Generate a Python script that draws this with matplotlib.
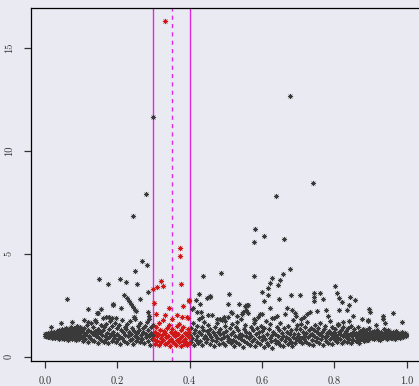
import numpy as np
import matplotlib
matplotlib.use("Agg")
import matplotlib.pyplot as plt

plt.rcParams['font.family'] = ['cmr10', 'DejaVu Serif']
plt.rcParams['axes.formatter.use_mathtext'] = True

# ---------------- data ----------------
# dense band, segment A (x 0.00-0.10)
band_a_x = [0.000,0.002,0.004,0.005,0.007,0.008,0.010,0.011,0.013,0.014,0.016,0.017,0.019,0.020,0.022,0.023,0.025,0.026,0.028,0.029,
            0.031,0.032,0.034,0.035,0.037,0.038,0.040,0.041,0.043,0.044,0.046,0.047,0.049,0.050,0.052,0.053,0.055,0.056,0.058,0.059,
            0.061,0.062,0.064,0.065,0.067,0.068,0.070,0.071,0.073,0.074,0.076,0.077,0.079,0.080,0.082,0.083,0.085,0.086,0.088,0.089,
            0.091,0.092,0.094,0.095,0.097,0.098,0.100,
            0.001,0.003,0.006,0.009,0.012,0.015,0.018,0.021,0.024,0.027,0.030,0.033,0.036,0.039,0.042,0.045,0.048,0.051,0.054,0.057,
            0.060,0.063,0.066,0.069,0.072,0.075,0.078,0.081,0.084,0.087,0.090,0.093,0.096,0.099]
band_a_y = [1.02,1.08,0.98,1.12,1.05,0.95,1.10,1.03,1.15,0.99,1.07,1.18,0.93,1.04,1.11,0.97,1.20,1.01,1.09,0.90,
            1.14,1.06,1.25,0.96,1.02,1.30,0.88,1.12,1.05,1.22,0.92,1.35,1.00,1.15,0.85,1.08,1.28,0.95,1.40,1.03,
            0.89,1.18,1.10,0.82,1.32,1.05,0.97,1.45,1.12,0.86,1.25,1.00,0.91,1.38,1.07,1.20,0.80,1.15,1.50,0.94,
            1.04,1.28,0.87,1.12,1.42,0.98,1.22,
            1.10,1.00,1.06,1.13,0.96,1.08,1.02,1.16,1.09,0.94,1.12,1.05,0.99,1.24,1.03,1.14,0.91,1.19,1.06,1.33,
            0.98,1.11,0.90,1.26,1.04,0.93,1.17,1.36,1.01,0.84,1.21,1.09,0.96,1.30]

# segment B (x 0.10-0.30)
band_b_x = [0.102,0.104,0.106,0.108,0.110,0.112,0.114,0.116,0.118,0.120,0.122,0.124,0.126,0.128,0.130,0.132,0.134,0.136,0.138,0.140,
            0.142,0.144,0.146,0.148,0.150,0.152,0.154,0.156,0.158,0.160,0.162,0.164,0.166,0.168,0.170,0.172,0.174,0.176,0.178,0.180,
            0.182,0.184,0.186,0.188,0.190,0.192,0.194,0.196,0.198,0.200,0.202,0.204,0.206,0.208,0.210,0.212,0.214,0.216,0.218,0.220,
            0.222,0.224,0.226,0.228,0.230,0.232,0.234,0.236,0.238,0.240,0.242,0.244,0.246,0.248,0.250,0.252,0.254,0.256,0.258,0.260,
            0.262,0.264,0.266,0.268,0.270,0.272,0.274,0.276,0.278,0.280,0.282,0.284,0.286,0.288,0.290,0.292,0.294,0.296,0.298,0.299]
band_b_y = [0.95,1.22,0.78,1.40,1.05,0.88,1.15,1.55,0.70,1.30,
            1.02,0.92,1.62,1.18,0.82,1.08,1.45,0.75,1.25,0.98,
            1.70,1.10,0.68,1.35,0.90,1.20,1.52,0.80,1.05,1.28,
            0.72,1.42,1.00,0.86,1.60,1.14,0.65,1.32,0.95,1.75,
            1.08,0.78,1.48,1.22,0.92,1.02,1.65,0.70,1.38,1.12,
            0.84,1.55,1.00,0.62,1.28,1.80,0.90,1.18,0.74,1.45,
            1.06,1.32,0.66,1.58,0.98,1.22,0.80,1.72,1.10,0.88,
            1.40,0.60,1.25,1.02,1.85,0.76,1.15,1.50,0.92,1.30,
            0.70,1.62,1.05,0.85,1.38,1.20,0.64,1.48,0.96,1.12,
            1.68,0.78,1.28,1.00,0.58,1.42,1.15,0.88,1.55,1.05]

# segment D (x 0.40-0.70)
band_d_x = [0.401,0.403,0.405,0.407,0.409,0.411,0.413,0.415,0.417,0.419,0.421,0.423,0.425,0.427,0.429,0.431,0.433,0.435,0.437,0.439,
            0.441,0.443,0.445,0.447,0.449,0.451,0.453,0.455,0.457,0.459,0.461,0.463,0.465,0.467,0.469,0.471,0.473,0.475,0.477,0.479,
            0.481,0.483,0.485,0.487,0.489,0.491,0.493,0.495,0.497,0.499,0.501,0.503,0.505,0.507,0.509,0.511,0.513,0.515,0.517,0.519,
            0.521,0.523,0.525,0.527,0.529,0.531,0.533,0.535,0.537,0.539,0.541,0.543,0.545,0.547,0.549,0.551,0.553,0.555,0.557,0.559,
            0.561,0.563,0.565,0.567,0.569,0.571,0.573,0.575,0.577,0.579,0.581,0.583,0.585,0.587,0.589,0.591,0.593,0.595,0.597,0.599,
            0.601,0.603,0.605,0.607,0.609,0.611,0.613,0.615,0.617,0.619,0.621,0.623,0.625,0.627,0.629,0.631,0.633,0.635,0.637,0.639,
            0.641,0.643,0.645,0.647,0.649,0.651,0.653,0.655,0.657,0.659,0.661,0.663,0.665,0.667,0.669,0.671,0.673,0.675,0.677,0.679,
            0.681,0.683,0.685,0.687,0.689,0.691,0.693,0.695,0.697,0.699]
band_d_y = [1.05,0.72,1.38,0.90,1.62,0.58,1.15,1.28,0.82,1.50,
            0.98,0.66,1.20,1.85,0.78,1.08,1.42,0.55,1.30,0.92,
            1.70,1.00,0.70,1.25,0.86,1.55,1.12,0.62,1.35,0.96,
            2.00,0.80,1.18,0.52,1.45,1.04,0.74,1.62,0.90,1.22,
            0.60,1.32,1.08,0.84,1.78,0.68,1.15,0.95,1.48,0.56,
            1.25,1.02,0.76,1.92,0.88,1.38,0.64,1.10,1.58,0.82,
            1.20,0.50,1.00,1.42,0.72,1.68,0.94,1.28,0.60,1.12,
            1.82,0.86,1.05,0.46,1.35,0.78,1.52,0.98,1.22,0.66,
            2.10,0.90,1.15,0.58,1.45,1.02,0.74,1.30,0.84,1.62,
            0.52,1.08,1.38,0.70,1.95,0.96,1.18,0.62,1.50,0.80,
            1.25,1.00,0.48,1.40,0.88,1.72,0.68,1.12,0.55,1.32,
            0.92,1.58,0.76,1.05,0.44,1.22,1.88,0.82,1.10,0.64,
            1.45,0.98,0.72,1.30,0.58,1.65,0.86,1.15,0.50,1.02,
            1.38,0.78,2.05,0.94,1.20,0.62,1.48,0.84,1.08,0.70,
            1.28,0.54,1.78,0.96,1.12,0.66,1.35,0.88,1.55,1.00]

# segment E (x 0.70-0.90)
band_e_x = [0.701,0.703,0.705,0.707,0.709,0.711,0.713,0.715,0.717,0.719,0.721,0.723,0.725,0.727,0.729,0.731,0.733,0.735,0.737,0.739,
            0.741,0.743,0.745,0.747,0.749,0.751,0.753,0.755,0.757,0.759,0.761,0.763,0.765,0.767,0.769,0.771,0.773,0.775,0.777,0.779,
            0.781,0.783,0.785,0.787,0.789,0.791,0.793,0.795,0.797,0.799,0.801,0.803,0.805,0.807,0.809,0.811,0.813,0.815,0.817,0.819,
            0.821,0.823,0.825,0.827,0.829,0.831,0.833,0.835,0.837,0.839,0.841,0.843,0.845,0.847,0.849,0.851,0.853,0.855,0.857,0.859,
            0.861,0.863,0.865,0.867,0.869,0.871,0.873,0.875,0.877,0.879,0.881,0.883,0.885,0.887,0.889,0.891,0.893,0.895,0.897,0.899,
            0.862,0.866,0.870,0.874,0.878,0.882,0.886,0.890,0.894,0.898]
band_e_y = [1.10,0.78,1.35,0.92,1.58,0.65,1.20,1.02,0.85,1.45,
            0.72,1.15,1.68,0.96,1.28,0.60,1.05,1.40,0.82,1.12,
            0.55,1.30,0.98,1.52,0.76,1.18,0.90,1.38,0.66,1.08,
            1.62,0.86,1.22,1.00,0.58,1.32,0.94,1.48,0.74,1.14,
            1.02,0.68,1.25,1.75,0.88,1.10,0.62,1.42,0.96,1.18,
            0.80,1.35,1.05,0.70,1.55,0.92,1.20,0.84,1.08,1.30,
            0.64,1.00,1.45,0.78,1.15,0.94,1.25,0.72,1.38,1.04,
            0.86,1.12,0.68,1.50,0.98,1.20,0.80,1.32,1.06,0.74,
            1.15,0.90,1.42,0.66,1.02,1.25,0.84,1.10,0.96,1.35,
            0.76,1.18,1.00,0.88,1.28,0.82,1.08,1.40,0.92,1.14,
            1.12,0.74,1.20,1.04,0.88,1.30,0.96,1.08,0.82,1.18]

# segment F (x 0.90-1.00)
band_f_x = [0.901,0.903,0.905,0.907,0.909,0.911,0.913,0.915,0.917,0.919,0.921,0.923,0.925,0.927,0.929,0.931,0.933,0.935,0.937,0.939,
            0.941,0.943,0.945,0.947,0.949,0.951,0.953,0.955,0.957,0.959,0.961,0.963,0.965,0.967,0.969,0.971,0.973,0.975,0.977,0.979,
            0.981,0.983,0.985,0.987,0.989,0.991,0.993,0.995,0.997,0.999,
            0.902,0.906,0.910,0.914,0.918,0.922,0.926,0.930,0.934,0.938,0.942,0.946,0.950,0.954,0.958,0.962,0.966,0.970,0.974,0.978,
            0.982,0.986,0.990,0.994,0.998]
band_f_y = [1.05,0.92,1.18,1.00,0.85,1.25,1.08,0.96,1.30,1.02,
            0.88,1.15,1.06,0.80,1.22,0.98,1.12,0.90,1.35,1.04,
            0.94,1.18,1.00,0.86,1.28,1.08,0.96,1.14,1.02,0.90,
            1.20,1.05,0.98,1.10,0.88,1.25,1.02,0.95,1.15,1.06,
            0.92,1.12,1.00,1.20,0.96,1.08,1.04,1.15,0.98,1.10,
            1.10,0.98,1.05,1.20,0.94,1.02,1.12,0.90,1.08,1.16,
            1.00,0.96,1.24,1.04,0.92,1.10,1.06,0.98,1.14,1.02,
            0.95,1.08,1.12,1.00,1.05]

# scattered black points above the band
out_x = [0.299,0.677,0.740,0.639,0.278,0.244,
         0.269,0.283,0.250,0.150,0.174,0.207,0.223,0.255,0.284,0.061,0.219,0.227,0.231,0.264,0.118,0.154,0.187,0.209,
         0.237,0.243,0.250,0.253,0.145,0.245,0.189,0.197,0.246,0.285,0.289,0.289,
         0.438,0.427,0.448,0.455,0.417,0.408,0.431,0.429,0.407,0.421,0.452,0.434,0.477,0.485,0.498,
         0.581,0.605,0.579,0.660,0.488,0.678,0.579,0.658,0.628,0.651,0.623,0.644,0.618,0.601,0.616,0.680,0.705,0.743,
         0.760,0.745,0.745,0.769,0.801,0.807,0.812,0.821,0.843,0.856,0.840,0.508,0.456,0.506,0.536,0.552,0.559,0.556,
         0.606,0.648,0.623,0.669,0.682,0.690,0.694,0.733,0.725,0.717,0.709,0.753,0.778,0.782,0.814,0.835,0.853,0.876,
         0.896,0.900,0.936,0.936,0.961,0.988,0.517,0.495,0.546,0.577,0.599,0.628,0.641,0.893,0.915,0.514,0.548,0.530,
         0.595,0.581,0.560,0.825,0.841,0.939,0.811,0.892,
         0.045,0.017,0.075,0.109,0.120,0.139,0.161,0.169,0.177,0.186,0.147]
out_y = [11.63,12.65,8.42,7.79,7.88,6.83,
         4.63,4.43,4.14,3.77,3.53,3.77,3.62,3.52,3.13,2.80,3.00,2.85,2.71,2.80,2.31,2.31,2.51,2.38,
         2.56,2.40,2.27,2.23,2.12,1.91,2.54,1.88,1.93,2.17,1.99,1.83,
         3.92,3.04,2.85,2.96,2.75,2.36,2.17,2.56,2.30,2.16,2.01,1.93,1.82,1.82,1.75,
         6.18,5.86,5.55,5.71,4.06,4.24,3.92,4.00,3.82,3.71,3.58,3.47,3.34,3.14,2.98,3.00,3.00,3.08,
         3.08,2.88,2.69,2.79,3.43,3.08,2.86,2.67,2.91,2.75,2.51,3.03,2.91,2.56,2.56,2.46,2.50,2.27,
         2.69,2.80,2.35,2.35,2.27,2.14,1.98,2.18,2.06,1.94,1.83,2.23,2.27,1.96,2.27,2.25,1.98,1.82,
         2.30,2.18,1.98,1.82,2.11,1.69,2.14,1.94,2.09,1.84,2.06,1.86,1.99,1.78,1.52,2.16,2.18,1.96,
         2.07,1.80,2.51,1.70,1.75,1.62,1.59,1.73,
         1.65,1.43,1.70,1.78,1.70,1.78,1.86,1.91,1.94,1.86,2.14]

# highlighted window (x 0.30-0.40), red
red_x = [0.302,0.304,0.305,0.307,0.309,0.311,0.313,0.315,0.316,0.318,
         0.320,0.322,0.324,0.326,0.327,0.329,0.331,0.333,0.335,0.337,
         0.338,0.340,0.342,0.344,0.346,0.348,0.349,0.351,0.353,0.355,
         0.357,0.359,0.360,0.362,0.364,0.366,0.368,0.370,0.371,0.373,
         0.375,0.377,0.379,0.381,0.382,0.384,0.386,0.388,0.390,0.392,
         0.393,0.395,0.397,0.398,0.399,
         0.300,0.311,0.321,0.325,0.302,0.344,0.381,0.397,0.399,0.374,0.373,0.375,0.332,
         0.392,0.307,0.350,0.364,0.378,0.332,0.396]
red_y = [0.85,1.20,0.62,1.45,0.98,0.75,1.10,1.65,0.55,1.30,
         0.92,0.70,1.05,1.80,0.80,1.25,0.60,1.15,0.95,1.40,
         0.68,1.02,1.55,0.78,0.50,1.18,0.88,1.35,0.72,1.08,
         0.65,0.98,1.22,0.58,1.48,0.82,1.12,0.70,1.60,0.90,
         0.52,1.28,1.00,0.76,1.42,0.63,1.15,0.86,0.72,1.05,
         0.55,1.32,0.94,0.68,1.20,
         3.27,3.37,3.66,3.44,2.59,2.34,2.44,2.75,2.72,5.26,4.87,3.52,16.30,
         1.94,2.07,1.82,2.02,1.94,2.02,1.86]

window = [0.30, 0.35, 0.40]
x_ticks = [0.0, 0.2, 0.4, 0.6, 0.8, 1.0]
y_ticks = [0, 5, 10, 15]

# ---------------- plot ----------------
bg = '#EAEAF2'
fig = plt.figure(figsize=(4.19, 3.86), dpi=100, facecolor=bg)
ax = fig.add_axes([30.5/419, 25/386, 390.6/419, 353/386])
ax.set_facecolor(bg)

black_x = band_a_x + band_b_x + band_d_x + band_e_x + band_f_x + out_x
black_y = band_a_y + band_b_y + band_d_y + band_e_y + band_f_y + out_y

star = (8, 2, 0)
ax.scatter(black_x, black_y, marker=star, s=12, linewidths=0.4,
           color='#3a3a3a', zorder=3)
ax.scatter(red_x, red_y, marker=star, s=12, linewidths=0.45,
           color='#d01818', zorder=4)

mag = '#e02ae0'
ax.axvline(window[0], color=mag, lw=1.0, zorder=2)
ax.axvline(window[2], color=mag, lw=1.0, zorder=2)
ax.axvline(window[1], color=mag, lw=1.0, ls=(0, (3, 3)), zorder=2)

ax.set_xlim(-0.04, 1.04)
ax.set_ylim(-0.21, 16.93)
ax.set_xticks(x_ticks)
ax.set_yticks(y_ticks)
ax.set_xticklabels([f"{v:.1f}" for v in x_ticks])
ax.set_yticklabels([str(v) for v in y_ticks], rotation=90, va='center')

for s in ['left', 'bottom', 'top', 'right']:
    ax.spines[s].set_color('black')
    ax.spines[s].set_linewidth(0.9)
ax.tick_params(axis='both', direction='out', length=5, width=0.9,
               color='#333333', labelsize=7.5, labelcolor='#333333')
ax.tick_params(axis='x', pad=6)
ax.tick_params(axis='y', pad=7)
ax.grid(False)

fig.savefig('out.png', dpi=100, facecolor=bg)
